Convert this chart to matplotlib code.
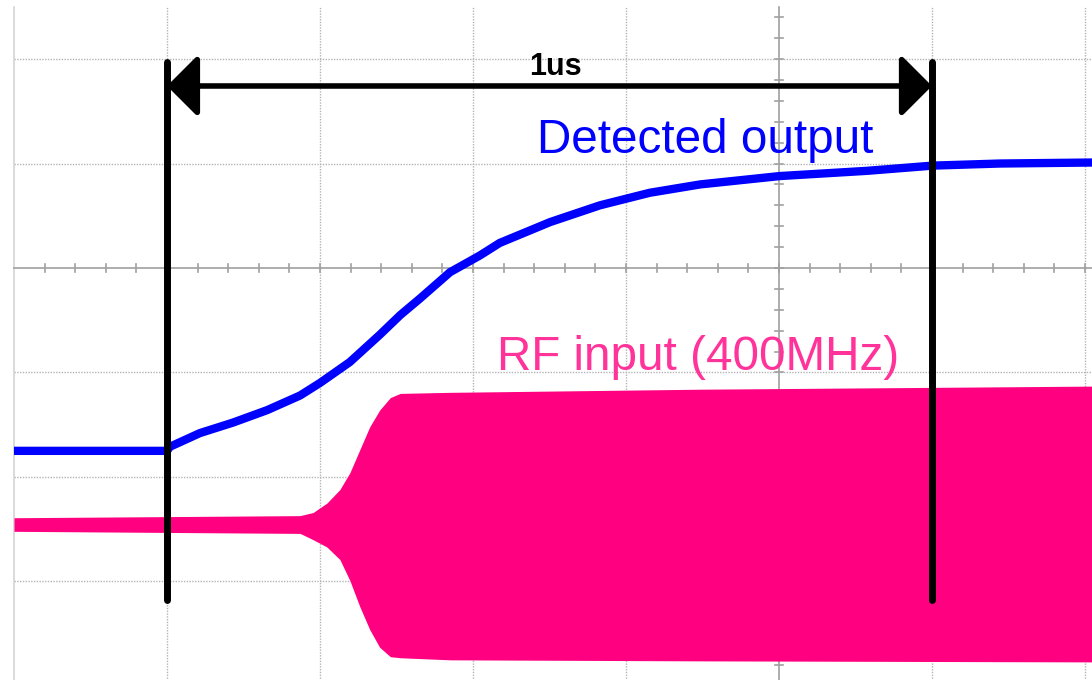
import numpy as np
import matplotlib.pyplot as plt

# time in ns (200 ns/div), amplitude in screen divisions (0 = centre line)
det_t = [-200, 0, 4, 43, 86, 131, 174, 200, 239, 278, 305, 331, 370, 409, 435,
         501, 566, 631, 697, 801, 915, 1001, 1089, 1215]
det_v = [-1.75, -1.75, -1.71, -1.58, -1.48, -1.36, -1.22, -1.10, -0.90, -0.64,
         -0.45, -0.29, -0.04, 0.12, 0.24, 0.44, 0.60, 0.72, 0.80, 0.88, 0.93,
         0.98, 1.00, 1.01]

rf_t = [-200, 174, 191, 209, 226, 239, 252, 265, 278, 292, 305, 370, 697, 1215]
rf_top = [-2.39, -2.37, -2.34, -2.25, -2.12, -1.96, -1.74, -1.52, -1.36, -1.24,
          -1.20, -1.19, -1.16, -1.13]
rf_bot = [-2.52, -2.54, -2.60, -2.67, -2.79, -2.99, -3.24, -3.46, -3.63, -3.72,
          -3.73, -3.75, -3.76, -3.77]

span_start = 0
span_end = 1000

fig = plt.figure(figsize=(10.92, 6.80), dpi=100)
ax = fig.add_axes([0, 0, 1, 1])
ax.set_xlim(-218.3, 1209.2)
ax.set_ylim(-3.943, 2.565)
ax.axis("off")

# scope graticule
grid_top = 2.5
for gx in [0, 200, 400, 600, 1000, 1200]:
    ax.plot([gx, gx], [-4, grid_top], color="#b4b4b4", lw=1, ls=(0, (1, 1)), zorder=1)
for gy in [-3, -2, -1, 1, 2]:
    ax.plot([-200, 1300], [gy, gy], color="#b4b4b4", lw=1, ls=(0, (1, 1)), zorder=1)
ax.plot([-200, -200], [-4, grid_top], color="#d4d4d4", lw=1.2, zorder=1)
ax.plot([-200, 1300], [0, 0], color="#a0a0a0", lw=1.2, zorder=1)
ax.plot([800, 800], [-4, grid_top], color="#a0a0a0", lw=1.2, zorder=1)
for tx in np.arange(-160, 1300, 40):
    ax.plot([tx, tx], [-0.035, 0.035], color="#a0a0a0", lw=1.2, zorder=1)
for ty in np.arange(-3.8, 2.6, 0.2):
    ax.plot([795, 805], [ty, ty], color="#a0a0a0", lw=1.2, zorder=1)

# traces
ax.fill_between(rf_t, rf_bot, rf_top, color="#ff0080", lw=0, zorder=2)
ax.plot(det_t, det_v, color="#0000ff", lw=6, solid_capstyle="butt", zorder=3)

# 1us marker
for mx in [span_start, span_end]:
    ax.plot([mx, mx], [1.97, -3.18], color="black", lw=5, solid_capstyle="round", zorder=4)
ax.annotate("", xy=(span_end, 1.742), xytext=(span_start, 1.742),
            arrowprops=dict(arrowstyle="<|-|>,head_length=1.9,head_width=1.9",
                            mutation_scale=10, color="black", lw=4,
                            shrinkA=0, shrinkB=0), zorder=4)
ax.text(508, 1.847, "1us", fontsize=22, fontweight="bold", family="Liberation Sans",
        ha="center", va="baseline", zorder=5)

ax.text(484, 1.10, "Detected output", fontsize=34.3, color="#0000ff",
        family="Liberation Sans", ha="left", va="baseline", zorder=5)
ax.text(431, -0.976, "RF input (400MHz)", fontsize=34.3, color="#ff3399",
        family="Liberation Sans", ha="left", va="baseline", zorder=5)

fig.savefig("out.png", dpi=100)
